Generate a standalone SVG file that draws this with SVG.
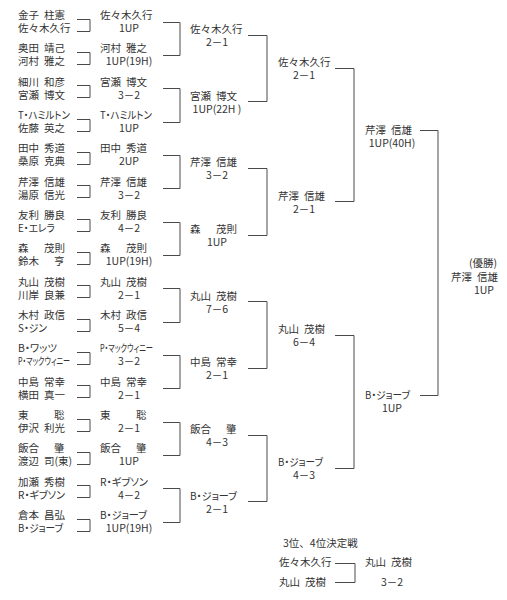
<svg xmlns="http://www.w3.org/2000/svg" width="507" height="600" viewBox="0 0 507 600">
<style>
text{font-family:"Noto Sans CJK JP","Noto Sans",sans-serif;font-size:10.5px;fill:#333}
.s{text-anchor:middle}
.e{text-anchor:end}
.k{font-feature-settings:"palt"}
.g2{word-spacing:2.6px}
.g1a{word-spacing:13.2px}
.g1b{word-spacing:23.2px}
.g21{word-spacing:12.6px}
.ln{fill:none;stroke:#4a4a4a;stroke-width:1}
</style>
<rect width="507" height="600" fill="#fff"/>
<g id="connectors">
<g id="r1-brackets">
<path class="ln" d="M77 19.5H90V31.5H77"/>
<path class="ln" d="M77 52.5H90V64.5H77"/>
<path class="ln" d="M77 85.5H90V97.5H77"/>
<path class="ln" d="M77 119.5H90V131.5H77"/>
<path class="ln" d="M77 152.5H90V164.5H77"/>
<path class="ln" d="M77 185.5H90V197.5H77"/>
<path class="ln" d="M77 219.5H90V231.5H77"/>
<path class="ln" d="M77 252.5H90V264.5H77"/>
<path class="ln" d="M77 285.5H90V297.5H77"/>
<path class="ln" d="M77 319.5H90V331.5H77"/>
<path class="ln" d="M77 352.5H90V364.5H77"/>
<path class="ln" d="M77 385.5H90V397.5H77"/>
<path class="ln" d="M77 419.5H90V431.5H77"/>
<path class="ln" d="M77 452.5H90V464.5H77"/>
<path class="ln" d="M77 485.5H90V497.5H77"/>
<path class="ln" d="M77 519.5H90V531.5H77"/>
</g>
<g id="r2-brackets">
<path class="ln" d="M163 22.5H180V55.5H163"/>
<path class="ln" d="M163 88.5H180V122.5H163"/>
<path class="ln" d="M163 155.5H180V188.5H163"/>
<path class="ln" d="M163 222.5H180V255.5H163"/>
<path class="ln" d="M163 288.5H180V322.5H163"/>
<path class="ln" d="M163 355.5H180V388.5H163"/>
<path class="ln" d="M163 422.5H180V455.5H163"/>
<path class="ln" d="M163 488.5H180V522.5H163"/>
</g>
<g id="r3-brackets">
<path class="ln" d="M248 35.5H267V101.5H248"/>
<path class="ln" d="M248 168.5H267V235.5H248"/>
<path class="ln" d="M248 301.5H267V368.5H248"/>
<path class="ln" d="M248 435.5H267V501.5H248"/>
</g>
<g id="sf-brackets">
<path class="ln" d="M335 68.5H354V201.5H335"/>
<path class="ln" d="M335 335.5H354V468.5H335"/>
</g>
<path id="final-bracket" class="ln" d="M420 130.5H438V395.5H420"/>
<path id="third-bracket" class="ln" d="M335 563.5H355V582.5H335"/>
</g>

<g id="round1">
<g id="p01"><text class="g2" x="18" y="19">金子 柱憲</text></g>
<g id="p02"><text x="18" y="32">佐々木久行</text></g>
<g id="p03"><text class="g2" x="18" y="52.3">奥田 靖己</text></g>
<g id="p04"><text class="g2" x="18" y="65.3">河村 雅之</text></g>
<g id="p05"><text class="g2" x="18" y="85.7">細川 和彦</text></g>
<g id="p06"><text class="g2" x="18" y="98.7">宮瀬 博文</text></g>
<g id="p07"><text class="k" x="18" y="119" textLength="52" lengthAdjust="spacingAndGlyphs">T・ハミルトン</text></g>
<g id="p08"><text class="g2" x="18" y="132">佐藤 英之</text></g>
<g id="p09"><text class="g2" x="18" y="152.3">田中 秀道</text></g>
<g id="p10"><text class="g2" x="18" y="165.3">桑原 克典</text></g>
<g id="p11"><text class="g2" x="18" y="185.7">芹澤 信雄</text></g>
<g id="p12"><text class="g2" x="18" y="198.7">湯原 信光</text></g>
<g id="p13"><text class="g2" x="18" y="219">友利 勝良</text></g>
<g id="p14"><text class="k" x="18" y="232" textLength="37" lengthAdjust="spacingAndGlyphs">E・エレラ</text></g>
<g id="p15"><text class="g1a" x="18" y="252.3">森 茂則</text></g>
<g id="p16"><text class="g21" x="18" y="265.3">鈴木 亨</text></g>
<g id="p17"><text class="g2" x="18" y="285.7">丸山 茂樹</text></g>
<g id="p18"><text class="g2" x="18" y="298.7">川岸 良兼</text></g>
<g id="p19"><text class="g2" x="18" y="319">木村 政信</text></g>
<g id="p20"><text class="k" x="18" y="332" textLength="29" lengthAdjust="spacingAndGlyphs">S・ジン</text></g>
<g id="p21"><text class="k" x="18" y="352.3" textLength="39" lengthAdjust="spacingAndGlyphs">B・ワッツ</text></g>
<g id="p22"><text class="k" x="18" y="365.3" textLength="52" lengthAdjust="spacingAndGlyphs">P・マックウィニー</text></g>
<g id="p23"><text class="g2" x="18" y="385.7">中島 常幸</text></g>
<g id="p24"><text class="g2" x="18" y="398.7">横田 真一</text></g>
<g id="p25"><text class="g1b" x="18" y="419">東 聡</text></g>
<g id="p26"><text class="g2" x="18" y="432">伊沢 利光</text></g>
<g id="p27"><text class="g21" x="18" y="452.3">飯合 肇</text></g>
<g id="p28"><text class="g2" x="18" y="465.3">渡辺 司(東)</text></g>
<g id="p29"><text class="g2" x="18" y="485.7">加瀬 秀樹</text></g>
<g id="p30"><text class="k" x="18" y="498.7" textLength="47" lengthAdjust="spacingAndGlyphs">R・ギブソン</text></g>
<g id="p31"><text class="g2" x="18" y="519">倉本 昌弘</text></g>
<g id="p32"><text class="k" x="18" y="532" textLength="45" lengthAdjust="spacingAndGlyphs">B・ジョーブ</text></g>
</g>

<g id="round2">
<g id="w1-01"><text x="100" y="19">佐々木久行</text><text class="s" x="129" y="32">1UP</text></g>
<g id="w1-02"><text class="g2" x="100" y="52.3">河村 雅之</text><text class="s" x="129" y="65.3">1UP(19H)</text></g>
<g id="w1-03"><text class="g2" x="100" y="85.7">宮瀬 博文</text><text class="s" x="129" y="98.7">3－2</text></g>
<g id="w1-04"><text class="k" x="100" y="119" textLength="52" lengthAdjust="spacingAndGlyphs">T・ハミルトン</text><text class="s" x="129" y="132">1UP</text></g>
<g id="w1-05"><text class="g2" x="100" y="152.3">田中 秀道</text><text class="s" x="129" y="165.3">2UP</text></g>
<g id="w1-06"><text class="g2" x="100" y="185.7">芹澤 信雄</text><text class="s" x="129" y="198.7">3－2</text></g>
<g id="w1-07"><text class="g2" x="100" y="219">友利 勝良</text><text class="s" x="129" y="232">4－2</text></g>
<g id="w1-08"><text class="g1a" x="100" y="252.3">森 茂則</text><text class="s" x="129" y="265.3">1UP(19H)</text></g>
<g id="w1-09"><text class="g2" x="100" y="285.7">丸山 茂樹</text><text class="s" x="129" y="298.7">2－1</text></g>
<g id="w1-10"><text class="g2" x="100" y="319">木村 政信</text><text class="s" x="129" y="332">5－4</text></g>
<g id="w1-11"><text class="k" x="100" y="352.3" textLength="53" lengthAdjust="spacingAndGlyphs">P・マックウィニー</text><text class="s" x="129" y="365.3">3－2</text></g>
<g id="w1-12"><text class="g2" x="100" y="385.7">中島 常幸</text><text class="s" x="129" y="398.7">2－1</text></g>
<g id="w1-13"><text class="g1b" x="100" y="419">東 聡</text><text class="s" x="129" y="432">2－1</text></g>
<g id="w1-14"><text class="g21" x="100" y="452.3">飯合 肇</text><text class="s" x="129" y="465.3">1UP</text></g>
<g id="w1-15"><text class="k" x="100" y="485.7" textLength="48" lengthAdjust="spacingAndGlyphs">R・ギブソン</text><text class="s" x="129" y="498.7">4－2</text></g>
<g id="w1-16"><text class="k" x="100" y="519" textLength="47" lengthAdjust="spacingAndGlyphs">B・ジョーブ</text><text class="s" x="129" y="532">1UP(19H)</text></g>
</g>

<g id="round3">
<g id="w2-1"><text x="190" y="33">佐々木久行</text><text class="s" x="217" y="46">2－1</text></g>
<g id="w2-2"><text class="g2" x="190" y="99.7">宮瀬 博文</text><text class="s" x="217" y="112.7">1UP(22H )</text></g>
<g id="w2-3"><text class="g2" x="190" y="166.3">芹澤 信雄</text><text class="s" x="217" y="179.3">3－2</text></g>
<g id="w2-4"><text class="g1a" x="190" y="233">森 茂則</text><text class="s" x="217" y="246">1UP</text></g>
<g id="w2-5"><text class="g2" x="190" y="299.7">丸山 茂樹</text><text class="s" x="217" y="312.7">7－6</text></g>
<g id="w2-6"><text class="g2" x="190" y="366.3">中島 常幸</text><text class="s" x="217" y="379.3">2－1</text></g>
<g id="w2-7"><text class="g21" x="190" y="433">飯合 肇</text><text class="s" x="217" y="446">4－3</text></g>
<g id="w2-8"><text class="k" x="190" y="499.7" textLength="47" lengthAdjust="spacingAndGlyphs">B・ジョーブ</text><text class="s" x="217" y="512.7">2－1</text></g>
</g>

<g id="round4">
<g id="w3-1"><text x="278" y="66.3">佐々木久行</text><text class="s" x="304" y="79.3">2－1</text></g>
<g id="w3-2"><text class="g2" x="278" y="199.7">芹澤 信雄</text><text class="s" x="304" y="212.7">2－1</text></g>
<g id="w3-3"><text class="g2" x="278" y="333">丸山 茂樹</text><text class="s" x="304" y="346">6－4</text></g>
<g id="w3-4"><text class="k" x="278" y="466.3" textLength="45" lengthAdjust="spacingAndGlyphs">B・ジョーブ</text><text class="s" x="304" y="479.3">4－3</text></g>
</g>

<g id="semifinal">
<g id="sf-1"><text class="g2" x="365" y="134">芹澤 信雄</text><text class="s" x="392" y="147">1UP(40H)</text></g>
<g id="sf-2"><text class="k" x="365" y="399" textLength="45" lengthAdjust="spacingAndGlyphs">B・ジョーブ</text><text class="s" x="392" y="412">1UP</text></g>
</g>

<g id="champion">
<text class="e" x="497" y="267">(優勝)</text>
<text class="g2" x="451" y="281">芹澤 信雄</text>
<text class="s" x="484" y="294">1UP</text>
</g>

<g id="third-place">
<g id="tp-title"><text x="283" y="547">3位、4位決定戦</text></g>
<g id="tp-1"><text x="279" y="566">佐々木久行</text></g>
<g id="tp-2"><text class="g2" x="279" y="586">丸山 茂樹</text></g>
<g id="tp-w"><text class="g2" x="365" y="566">丸山 茂樹</text><text class="s" x="392" y="586">3－2</text></g>
</g>
</svg>
